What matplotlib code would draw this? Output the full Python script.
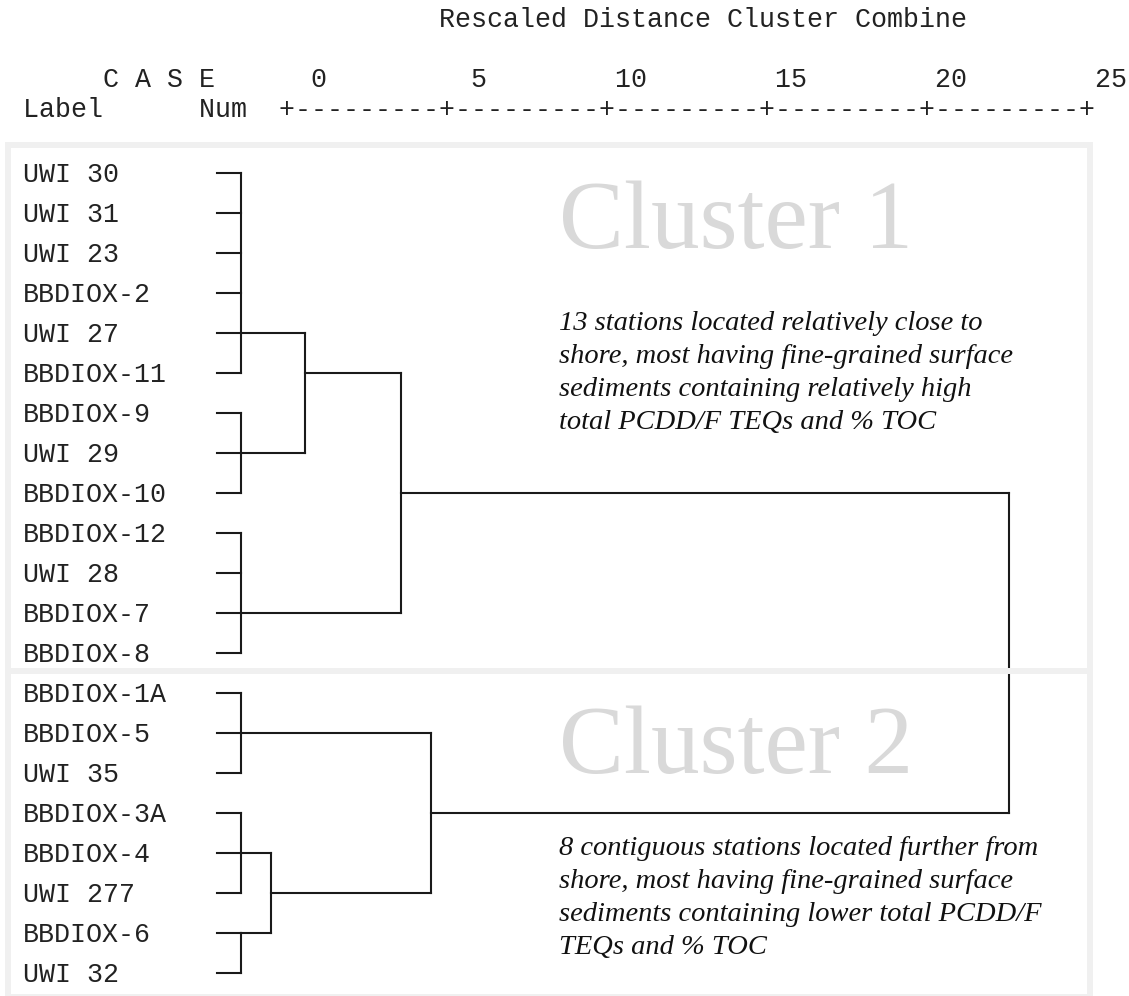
import matplotlib.pyplot as plt
import matplotlib.transforms as mtransforms
from matplotlib.patches import Rectangle

W, H = 1129, 996

# leaf order (top to bottom)
labels = ["UWI 30", "UWI 31", "UWI 23", "BBDIOX-2", "UWI 27", "BBDIOX-11",
          "BBDIOX-9", "UWI 29", "BBDIOX-10", "BBDIOX-12", "UWI 28", "BBDIOX-7",
          "BBDIOX-8", "BBDIOX-1A", "BBDIOX-5", "UWI 35", "BBDIOX-3A", "BBDIOX-4",
          "UWI 277", "BBDIOX-6", "UWI 32"]

# merges: children (leaf index or earlier merge), rescaled distance, row the joined branch leaves from
merge_names = ["A", "B", "C", "D", "E", "F", "AB", "ABC", "EF", "DEF", "ALL"]
merge_children = [[0, 1, 2, 3, 4, 5], [6, 7, 8], [9, 10, 11, 12], [13, 14, 15],
                  [16, 17, 18], [19, 20], ["A", "B"], ["AB", "C"], ["E", "F"],
                  ["D", "EF"], ["ABC", "DEF"]]
merge_dist = [0.75, 0.75, 0.75, 0.75, 0.75, 0.75, 2.75, 5.75, 1.7, 6.7, 24.75]
merge_exit_row = [4, 7, 11, 14, 17, 19, 5, 8, 18, 16, None]

scale_ticks = [0, 5, 10, 15, 20, 25]

cluster_names = ["Cluster 1", "Cluster 2"]
cluster_notes = [
    ["13 stations located relatively close to",
     "shore, most having fine-grained surface",
     "sediments containing relatively high",
     "total PCDD/F TEQs and % TOC"],
    ["8 contiguous stations located further from",
     "shore, most having fine-grained surface",
     "sediments containing lower total PCDD/F",
     "TEQs and % TOC"],
]
cluster_rows = [(0, 12), (13, 20)]

fig = plt.figure(figsize=(W / 100, H / 100), dpi=100)
ax = fig.add_axes([0, 0, 1, 1])
ax.axis("off")
# 32 px per rescaled-distance unit, leaves start at x=217 px; rows 40 px apart from y=173 px
ax.set_xlim(-217 / 32, (W - 217) / 32)
ax.set_ylim((H - 173) / 40, -173 / 40)

# pixel transform (origin top-left)
px = mtransforms.Affine2D().scale(1 / W, -1 / H).translate(0, 1) + fig.transFigure
rowt = mtransforms.blended_transform_factory(px, ax.transData)

mono = "Liberation Mono"
msize = 19.2

# header in SPSS text style
title = " " * 26 + "Rescaled Distance Cluster Combine"
case_line = "     C A S E"
for t in scale_ticks:
    end = 18 + 2 * t + 1
    case_line = case_line.ljust(end - len(str(t))) + str(t)
rule_line = "Label      Num  " + "+---------" * 5 + "+"
for s, yb in [(title, 27), (case_line, 87), (rule_line, 117)]:
    ax.text(23, yb, s, transform=px, family=mono, fontsize=msize,
            ha="left", va="baseline", color="#222222")

# leaf labels
off = mtransforms.ScaledTranslation(0, -0.09, fig.dpi_scale_trans)
for i, lab in enumerate(labels):
    ax.text(23, i, lab, transform=rowt + off, family=mono, fontsize=msize,
            ha="left", va="baseline", color="#222222")

# dendrogram
pos = {i: (0.0, i) for i in range(len(labels))}
lk = dict(color="#1a1a1a", lw=1.5, solid_capstyle="projecting", zorder=2)
for name, kids, d, out in zip(merge_names, merge_children, merge_dist, merge_exit_row):
    rows = []
    for k in kids:
        x0, r = pos[k]
        ax.plot([x0, d], [r, r], **lk)
        rows.append(r)
    ax.plot([d, d], [min(rows), max(rows)], **lk)
    pos[name] = (d, out)

# cluster boxes
box_edges = [(145.5, 671), (671, 997)]
for (top, bot) in box_edges:
    ax.add_patch(Rectangle((8, top), 1090 - 8, bot - top, transform=px,
                           fill=False, ec="#f0f0f0", lw=4.3, zorder=5))

# cluster annotations
name_base = [248, 773]
note_base = [330, 855]
for k in range(2):
    ax.text(559, name_base[k], cluster_names[k], transform=px, family="Liberation Serif",
            fontsize=70, color="#d9d9d9", ha="left", va="baseline", zorder=1)
    for j, line in enumerate(cluster_notes[k]):
        ax.text(559, note_base[k] + 33 * j, line, transform=px, family="Liberation Serif",
                style="italic", fontsize=20.5, color="#111111", ha="left", va="baseline")

fig.savefig("out.png", dpi=100)
